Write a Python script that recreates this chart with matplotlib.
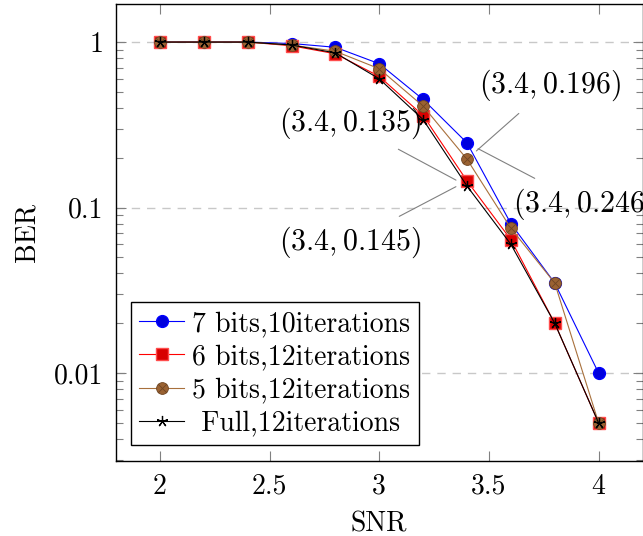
import matplotlib
matplotlib.use("Agg")
import matplotlib.pyplot as plt
from matplotlib.path import Path
from matplotlib.ticker import FixedLocator, NullFormatter, LogLocator

plt.rcParams['font.family'] = 'serif'
plt.rcParams['font.serif'] = ['cmr10']
plt.rcParams['mathtext.fontset'] = 'cm'
plt.rcParams['axes.unicode_minus'] = False
plt.rcParams['axes.formatter.use_mathtext'] = True

# Data
snr = [2.0, 2.2, 2.4, 2.6, 2.8, 3.0, 3.2, 3.4, 3.6, 3.8, 4.0]
ber_7bits = [1, 1, 1, 0.98, 0.93, 0.74, 0.45, 0.246, 0.080, 0.035, 0.010]
ber_6bits = [1, 1, 1, 0.95, 0.85, 0.62, 0.36, 0.145, 0.064, 0.020, 0.005]
ber_5bits = [1, 1, 1, 0.96, 0.88, 0.69, 0.41, 0.196, 0.075, 0.035, 0.005]
ber_full = [1, 1, 1, 0.96, 0.86, 0.60, 0.34, 0.135, 0.060, 0.020, 0.005]

series_labels = ["7 bits,10iterations", "6 bits,12iterations",
                 "5 bits,12iterations", " Full,12iterations"]
x_ticks = [2, 2.5, 3, 3.5, 4]
x_tick_labels = ["2", "2.5", "3", "3.5", "4"]
y_ticks = [1, 0.1, 0.01]
y_tick_labels = ["1", "0.1", "0.01"]

# circle with a cross inside (pgfplots otimes*)
otimes = Path.make_compound_path(
    Path.unit_circle(),
    Path([[-0.707, -0.707], [0.707, 0.707]], [Path.MOVETO, Path.LINETO]),
    Path([[-0.707, 0.707], [0.707, -0.707]], [Path.MOVETO, Path.LINETO]),
)

fig = plt.figure(figsize=(6.43, 5.36), dpi=100)
ax = fig.add_axes([116 / 643, 1 - 461 / 536, 526.5 / 643, 457 / 536])

fs = 20
lw = 0.8
ax.plot(snr, ber_7bits, color='#0000ff', lw=lw, marker='o', ms=8.5,
        mfc='#0000dd', mec='#0000ff', label=series_labels[0], zorder=3)
ax.plot(snr, ber_6bits, color='#ff0000', lw=lw, marker='s', ms=8,
        mfc='#d80000', mec='#ff4d4d', mew=1, label=series_labels[1], zorder=4)
ax.plot(snr, ber_5bits, color='#a8703c', lw=lw, marker=otimes, ms=8.5,
        mfc='#9a6232', mec='#6e4522', mew=0.6, label=series_labels[2], zorder=5)
ax.plot(snr, ber_full, color='black', lw=lw, marker=(5, 2, 0), ms=8,
        mew=0.9, label=series_labels[3], zorder=6)

ax.set_yscale('log')
ax.set_xlim(1.8, 4.2)
ax.set_ylim(10 ** (-2.531), 10 ** 0.230)

ax.xaxis.set_major_locator(FixedLocator(x_ticks))
ax.set_xticklabels(x_tick_labels)
ax.yaxis.set_major_locator(FixedLocator(y_ticks))
ax.set_yticklabels(y_tick_labels)
ax.yaxis.set_minor_locator(LogLocator(base=10, subs=range(2, 10)))
ax.yaxis.set_minor_formatter(NullFormatter())

ax.tick_params(which='both', direction='in', top=True, right=True,
               color='#808080', labelsize=fs, pad=9)
ax.tick_params(which='major', length=7, width=0.8)
ax.tick_params(which='minor', length=5, width=0.8)

for sp in ax.spines.values():
    sp.set_linewidth(1.0)
    sp.set_color('black')

ax.grid(axis='y', which='major', color='#c8c8c8', lw=1, linestyle=(0, (6, 5)))
ax.set_axisbelow(True)

ax.set_xlabel("SNR", fontsize=fs, labelpad=8)
ax.set_ylabel("BER", fontsize=fs, labelpad=10)

leg = ax.legend(loc='lower left', bbox_to_anchor=(0.0285, 0.035),
                borderaxespad=0, fontsize=fs, fancybox=False, framealpha=1,
                edgecolor='black', handlelength=1.6, handletextpad=0.3,
                labelspacing=0.25, borderpad=0.3)
leg.get_frame().set_linewidth(1.0)

# pins at SNR = 3.4
pin = dict(arrowstyle='-', color='#808080', lw=0.8, shrinkA=8, shrinkB=9)
ann = [
    (ber_full[7], r'$(3.4, 0.135)$', (-84, 45)),
    (ber_6bits[7], r'$(3.4, 0.145)$', (-84, -44)),
    (ber_5bits[7], r'$(3.4, 0.196)$', (60, 53)),
    (ber_7bits[7], r'$(3.4, 0.246)$', (84, -44)),
]
for yv, txt, off in ann:
    ax.annotate(txt, xy=(snr[7], yv), xytext=off, textcoords='offset points',
                ha='center', va='center', fontsize=21.5, arrowprops=pin,
                annotation_clip=False, zorder=7)

fig.savefig("out.png", dpi=100)
